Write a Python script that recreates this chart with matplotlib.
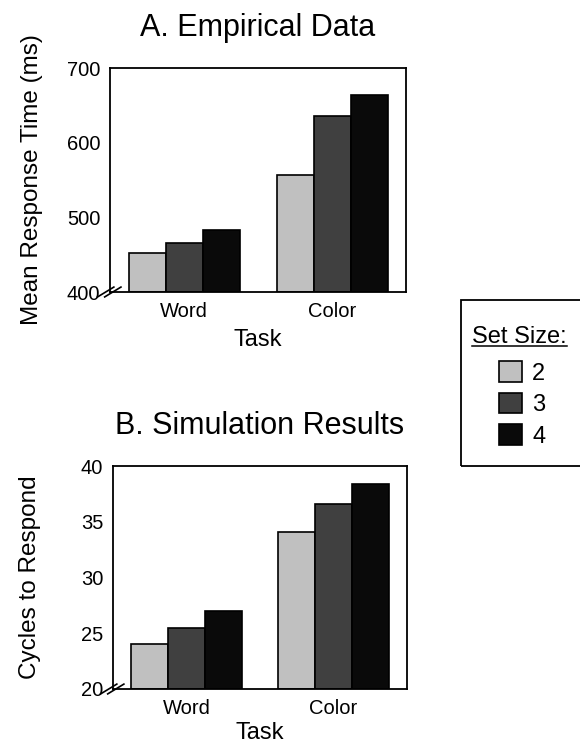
import numpy as np
import matplotlib.pyplot as plt
from matplotlib.patches import Rectangle
from matplotlib.lines import Line2D

plt.rcParams['font.family'] = ['Liberation Sans', 'DejaVu Sans']

# datos
tareas = ['Word', 'Color']
set_sizes = ['2', '3', '4']
colores = ['#c0c0c0', '#404040', '#0a0a0a']

empirico = {
    '2': [452, 557],
    '3': [466, 636],
    '4': [483, 664],
}
simulacion = {
    '2': [24.0, 34.1],
    '3': [25.5, 36.6],
    '4': [27.0, 38.4],
}

fig = plt.figure(figsize=(5.8, 7.45), dpi=100)
W, H = 580, 745

def caja(x0, y0, x1, y1):
    # pixeles -> fraccion de figura
    return [x0 / W, 1 - y1 / H, (x1 - x0) / W, (y1 - y0) / H]

ax1 = fig.add_axes(caja(110, 68, 406, 292))
ax2 = fig.add_axes(caja(113, 466, 407, 689))

ancho = 0.25
x = np.arange(len(tareas))

def dibujar(ax, datos, ylim, yticks, ylabel, titulo, lpad, tpad):
    for i, s in enumerate(set_sizes):
        ax.bar(x + (i - 1) * ancho, np.array(datos[s]) - ylim[0], ancho,
               bottom=ylim[0], color=colores[i], edgecolor='black', linewidth=1.2,
               label=s)
    ax.set_xlim(-0.5, 1.5)
    ax.set_ylim(*ylim)
    ax.set_yticks(yticks)
    ax.set_xticks(x)
    ax.set_xticklabels(tareas)
    ax.tick_params(axis='both', length=0, labelsize=14.5, pad=7)
    ax.set_xlabel('Task', fontsize=17, labelpad=tpad)
    ax.set_ylabel(ylabel, fontsize=17.5, labelpad=lpad)
    ax.set_title(titulo, fontsize=22, pad=23)
    for sp in ax.spines.values():
        sp.set_linewidth(1.3)
    # marca de corte del eje
    for dx in (-0.012, 0.012):
        ax.add_line(Line2D([-0.03 + dx, 0.025 + dx], [-0.022, 0.022],
                           transform=ax.transAxes, color='black', lw=1.2,
                           clip_on=False))

dibujar(ax1, empirico, (400, 700), [400, 500, 600, 700],
        'Mean Response Time (ms)', 'A. Empirical Data', 17, 6)
dibujar(ax2, simulacion, (20, 40), [20, 25, 30, 35, 40],
        'Cycles to Respond', 'B. Simulation Results', 29, 3)

# caja de leyenda (se sale por la derecha como en el original)
r = caja(461, 300, 600, 466)
fig.patches.append(Rectangle((r[0], r[1]), r[2], r[3], transform=fig.transFigure,
                             fill=False, edgecolor='black', linewidth=1.3))
fig.text(519 / W, 1 - 337 / H, 'Set Size:', fontsize=17, ha='center', va='center')
fig.add_artist(Line2D([472 / W, 567 / W], [1 - 346 / H, 1 - 346 / H],
                      color='black', lw=1.1))

handles, labels = ax1.get_legend_handles_labels()
fig.legend(handles, labels, loc='upper left', bbox_to_anchor=(478 / W, 1 - 340 / H),
           frameon=False, fontsize=17, handlelength=0.95, handleheight=0.95,
           labelspacing=0.35, handletextpad=0.45)

fig.savefig('out.png', dpi=100)
